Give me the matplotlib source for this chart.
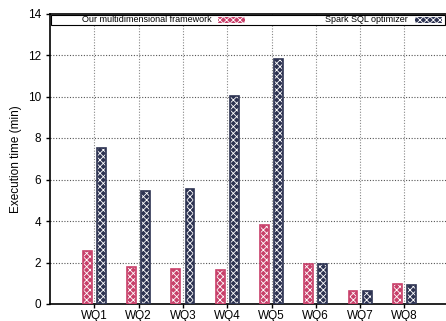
import matplotlib
matplotlib.use("Agg")
import matplotlib.pyplot as plt
from matplotlib.patches import Rectangle
import numpy as np

plt.rcParams['font.family'] = ['Liberation Sans', 'DejaVu Sans']
plt.rcParams['hatch.linewidth'] = 0.6

queries = ["WQ1", "WQ2", "WQ3", "WQ4", "WQ5", "WQ6", "WQ7", "WQ8"]
ours = [2.55, 1.78, 1.69, 1.64, 3.81, 1.94, 0.64, 0.98]
spark = [7.50, 5.45, 5.54, 10.02, 11.80, 1.93, 0.63, 0.92]
series_names = ["Our multidimensional framework", "Spark SQL optimizer"]
colors = ["#c8406a", "#2d3352"]

fig = plt.figure(figsize=(4.46, 3.21), dpi=100)
ax = fig.add_axes([50 / 446, 17 / 321, 398.7 / 446, 290.5 / 321])

x = np.arange(1, len(queries) + 1)
w = 0.2
for vals, off, c in [(ours, -0.16, colors[0]), (spark, 0.16, colors[1])]:
    ax.bar(x + off, vals, width=w, color=c, edgecolor="white", hatch="xxxxx",
           linewidth=0, zorder=3)
    ax.bar(x + off, vals, width=w, facecolor="none", edgecolor=c,
           linewidth=1.2, zorder=4)

ax.set_xlim(0, 9)
ax.set_ylim(0, 14)
ax.set_xticks(x)
ax.set_xticklabels(queries)
ax.set_yticks(np.arange(0, 15, 2))
ax.tick_params(axis="both", labelsize=8.5, direction="out", length=3, width=1)
ax.tick_params(axis="x", pad=1.5, labelsize=8.5)
ax.set_ylabel("Execution time (min)", fontsize=8.5, labelpad=4)

for yv in range(2, 14, 2):
    ax.axhline(yv, color="#555555", linestyle=(0, (1, 1.5)), linewidth=0.8, zorder=1)
for xv in x:
    ax.axvline(xv, color="#888888", linestyle=(0, (1, 1.5)), linewidth=0.8, zorder=1)

for s in ax.spines.values():
    s.set_linewidth(1.2)

# legend box across the top of the plot area
legend_box = Rectangle((51 / 446, 1 - 25 / 321), 394 / 446, 10 / 321,
                       transform=fig.transFigure, facecolor="white",
                       edgecolor="black", linewidth=0.8, zorder=10)
fig.add_artist(legend_box)
ytxt = 1 - 20 / 321
fig.text(212 / 446, ytxt, series_names[0], ha="right", va="center",
         fontsize=6.5, zorder=11)
fig.text(408 / 446, ytxt, series_names[1], ha="right", va="center",
         fontsize=6.5, zorder=11)
for x0, c in [(218, colors[0]), (415, colors[1])]:
    sw = Rectangle((x0 / 446, 1 - 23 / 321), 27 / 446, 6 / 321,
                   transform=fig.transFigure, facecolor=c, edgecolor="white",
                   hatch="xxxxx", linewidth=0, zorder=11)
    fig.add_artist(sw)

fig.savefig("out.png", dpi=100)
